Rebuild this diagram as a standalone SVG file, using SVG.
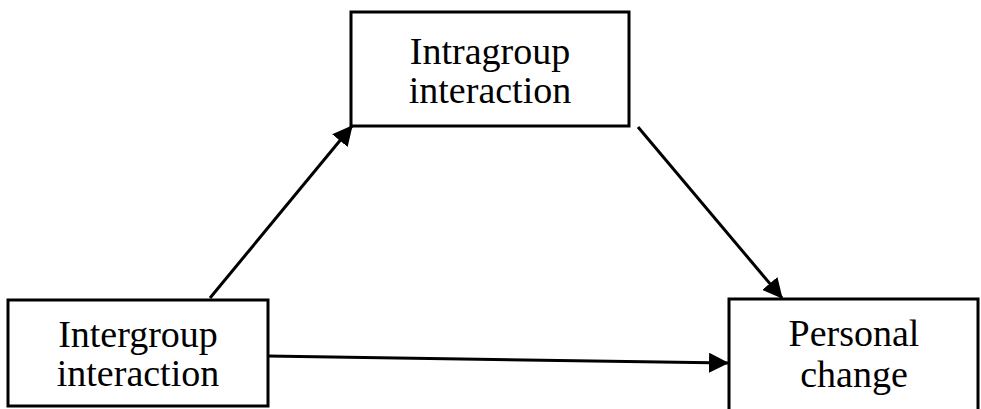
<svg xmlns="http://www.w3.org/2000/svg" width="981" height="409" viewBox="0 0 981 409">
<style>
.box{fill:#fff;stroke:#000;stroke-width:3}
.lbl{font-family:"Liberation Serif","Times New Roman",serif;font-size:38px;fill:#000;text-anchor:middle}
.conn{stroke:#000;stroke-width:3;fill:none;marker-end:url(#ah)}
</style>
<defs>
<marker id="ah" markerUnits="userSpaceOnUse" markerWidth="20" markerHeight="20" viewBox="0 0 20 20" refX="19" refY="10" orient="auto">
<path d="M0,0 L20,10 L0,20 Z" fill="#000"/>
</marker>
</defs>
<rect width="981" height="409" fill="#fff"/>
<g id="intragroup">
<rect class="box" x="351" y="12" width="278" height="114"/>
<text class="lbl" x="490" y="64">Intragroup</text>
<text class="lbl" x="490" y="103">interaction</text>
</g>
<g id="intergroup">
<rect class="box" x="8" y="300" width="260" height="106"/>
<text class="lbl" x="138" y="347">Intergroup</text>
<text class="lbl" x="138" y="386">interaction</text>
</g>
<g id="personal">
<rect class="box" x="729" y="299" width="249" height="130"/>
<text class="lbl" x="854" y="346">Personal</text>
<text class="lbl" x="854" y="387">change</text>
</g>
<g id="connectors">
<line class="conn" x1="210" y1="298" x2="352" y2="126"/>
<line class="conn" x1="638" y1="127" x2="782" y2="298"/>
<line class="conn" x1="267" y1="356" x2="728" y2="363"/>
</g>
</svg>
